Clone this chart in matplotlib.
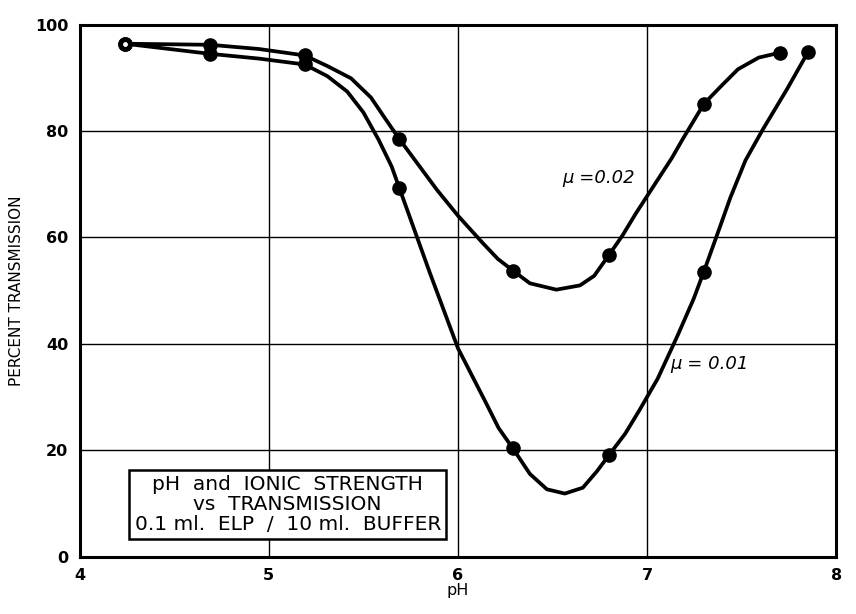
import matplotlib.pyplot as plt

ph_02 = [4.24, 4.69, 5.19, 5.69, 6.29, 6.80, 7.30, 7.70]
pct_02 = [96.4, 96.2, 94.2, 78.5, 53.8, 56.8, 85.1, 94.7]
ph_01 = [4.24, 4.69, 5.19, 5.69, 6.29, 6.80, 7.30, 7.85]
pct_01 = [96.4, 94.5, 92.5, 69.3, 20.4, 19.2, 53.6, 94.8]

# hand-drawn curves
curve_ph_02 = [4.24, 4.69, 4.95, 5.19, 5.31, 5.435, 5.54, 5.62, 5.69, 5.89, 6.00,
               6.13, 6.21, 6.29, 6.38, 6.52, 6.645, 6.72, 6.80, 6.87, 6.94, 7.13,
               7.19, 7.30, 7.39, 7.48, 7.59, 7.70]
curve_pct_02 = [96.4, 96.2, 95.4, 94.2, 92.2, 89.9, 86.3, 82.1, 78.5, 68.9, 64.1,
                59.0, 56.0, 53.8, 51.4, 50.2, 51.0, 52.8, 56.8, 60.4, 64.5, 74.9,
                78.6, 85.1, 88.4, 91.6, 93.8, 94.7]
curve_ph_01 = [4.24, 4.69, 4.95, 5.19, 5.31, 5.415, 5.50, 5.58, 5.65, 5.69, 5.85,
               6.00, 6.15, 6.215, 6.29, 6.38, 6.47, 6.565, 6.66, 6.735, 6.80, 6.885,
               6.96, 7.056, 7.16, 7.245, 7.30, 7.39, 7.44, 7.52, 7.61, 7.74, 7.85]
curve_pct_01 = [96.4, 94.5, 93.6, 92.5, 90.3, 87.4, 83.5, 78.4, 73.3, 69.3, 53.5,
                39.2, 28.8, 24.2, 20.4, 15.6, 12.7, 11.9, 13.0, 16.1, 19.2, 23.2,
                27.6, 33.5, 41.5, 48.4, 53.6, 62.5, 67.5, 74.5, 80.2, 87.9, 94.8]

fig = plt.figure(figsize=(8.56, 6.14), dpi=100)
ax = fig.add_axes([0.093, 0.093, 0.884, 0.867])

ax.set_xlim(4, 8)
ax.set_ylim(0, 100)
ax.set_xticks([4, 5, 6, 7, 8])
ax.set_yticks([0, 20, 40, 60, 80, 100])
ax.grid(True, color="black", linewidth=1.0)
ax.set_axisbelow(True)
ax.tick_params(length=0, labelsize=11.5, pad=8)
for lab in ax.get_xticklabels() + ax.get_yticklabels():
    lab.set_fontweight("bold")
for sp in ax.spines.values():
    sp.set_linewidth(2.2)

for cx, cy in [(curve_ph_02, curve_pct_02), (curve_ph_01, curve_pct_01)]:
    ax.plot(cx, cy, color="black", lw=2.7, solid_capstyle="round",
            solid_joinstyle="round")
ax.plot(ph_02, pct_02, "o", color="black", ms=9.5)
ax.plot(ph_01, pct_01, "o", color="black", ms=9.5)
ax.plot(ph_01[0], pct_01[0], "o", color="white", ms=2.5)

ax.text(6.55, 71.2, "μ =0.02", fontsize=13, style="italic", va="center")
ax.text(7.12, 36.3, "μ = 0.01", fontsize=13, style="italic", va="center")

ax.text(5.1, 9.8, "pH  and  IONIC  STRENGTH\nvs  TRANSMISSION\n0.1 ml.  ELP  /  10 ml.  BUFFER",
        ha="center", va="center", fontsize=14.5, linespacing=1.05,
        bbox=dict(boxstyle="square,pad=0.25", facecolor="white", edgecolor="black", lw=1.8))

ax.set_xlabel("pH", fontsize=11.5, labelpad=0)
ax.set_ylabel("PERCENT TRANSMISSION", fontsize=11, labelpad=8)

fig.savefig("out.png")
